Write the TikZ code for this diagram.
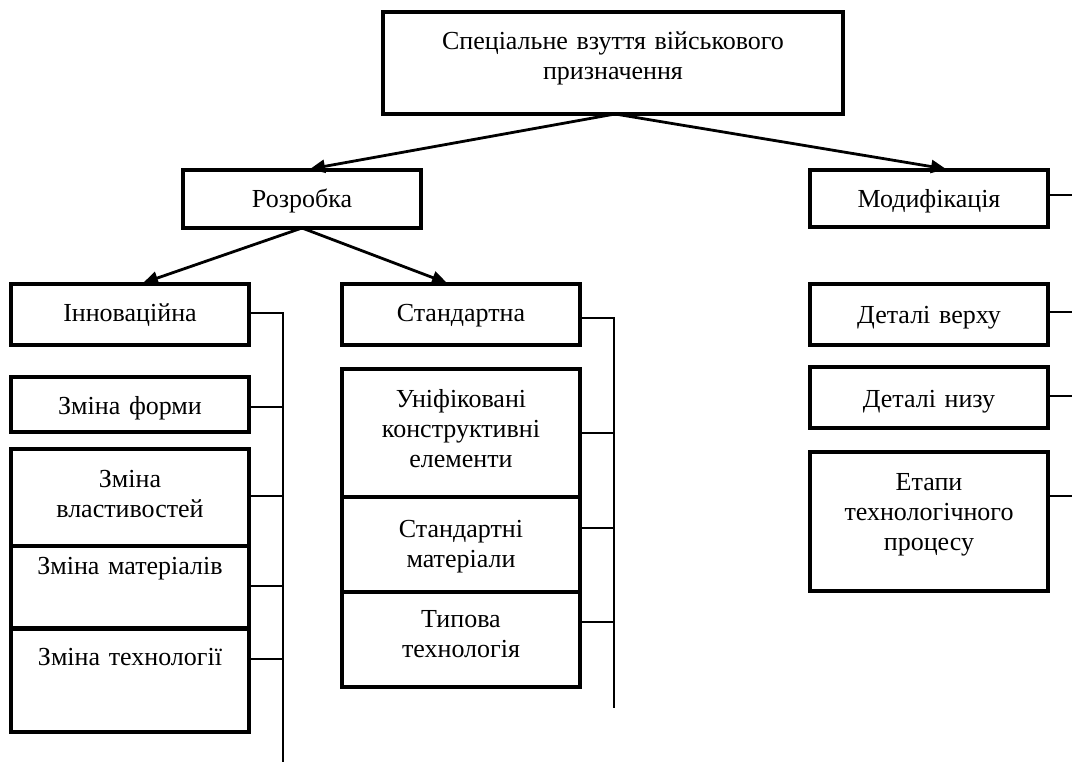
\documentclass[tikz,border=0pt]{standalone}
\usepackage{fontspec}
\setmainfont{Liberation Serif}
\usetikzlibrary{arrows.meta,calc}
\begin{document}
\begin{tikzpicture}[x=1pt,y=-1pt,
  box/.style={draw, line width=4pt, inner sep=0pt, outer sep=0pt, align=center,
    anchor=north west, text width=238pt, font=\fontsize{26}{30}\selectfont},
  link/.style={line width=2.6pt},
  arr/.style={line width=2.8pt, -{Triangle[length=15pt,width=13pt]}}]
\useasboundingbox (0,0) rectangle (1072,762);

% boxes
\node[box, text width=460pt, text height=38pt, text depth=64pt] (top) at (383,12) {Спеціальне взуття військового\\призначення};
\node[box, text height=38pt, text depth=20pt] (rozr) at (183,170) {Розробка};
\node[box, text height=38pt, text depth=19pt] (modif) at (810,170) {Модифікація};
\node[box, text height=38pt, text depth=23pt] (innov) at (11,284) {Інноваційна};
\node[box, text height=38pt, text depth=23pt] (stand) at (342,284) {Стандартна};
\node[box, text height=37pt, text depth=18pt] (forma) at (11,377) {Зміна форми};
\node[box, text height=38pt, text depth=59pt] (vlast) at (11,449) {Зміна\\властивостей};
\node[box, text height=28pt, text depth=54pt] (mater) at (11,546) {Зміна матеріалів};
\node[box, text height=36pt, text depth=67pt] (tekhn) at (11,629) {Зміна технології};
\node[box, text height=38pt, text depth=90pt] (unif) at (342,369) {Уніфіковані\\конструктивні\\елементи};
\node[box, text height=40pt, text depth=55pt] (stmat) at (342,497) {Стандартні\\матеріали};
\node[box, text height=35pt, text depth=60pt] (typ) at (342,592) {Типова\\технологія};
\node[box, text height=40pt, text depth=21pt] (verkh) at (810,284) {Деталі верху};
\node[box, text height=40pt, text depth=21pt] (nyz) at (810,367) {Деталі низу};
\node[box, text height=38pt, text depth=101pt] (etapy) at (810,452) {Етапи\\технологічного\\процесу};

% arrows
\coordinate (apex) at (615,114);
\draw[arr] (apex) -- ($(rozr.north)+(8,-1)$);
\draw[arr] (apex) -- ($(modif.north)+(17,-1)$);
\draw[arr] (rozr.south) -- ($(innov.north)+(13,-1)$);
\draw[arr] (rozr.south) -- ($(stand.north)+(-14,-1)$);

% left bus
\coordinate (lbus) at (283,762);
\draw[link] ($(innov.north east)+(0,29)$) -| (lbus);
\draw[link] ($(forma.north east)+(0,30)$) -- ++(34,0);
\draw[link] ($(vlast.north east)+(0,47)$) -- ++(34,0);
\draw[link] ($(mater.north east)+(0,40)$) -- ++(34,0);
\draw[link] ($(tekhn.north east)+(0,30)$) -- ++(34,0);

% middle bus
\coordinate (mbus) at (614,708);
\draw[link] ($(stand.north east)+(0,34)$) -| (mbus);
\draw[link] ($(unif.north east)+(0,64)$) -- ++(34,0);
\draw[link] ($(stmat.north east)+(0,31)$) -- ++(34,0);
\draw[link] ($(typ.north east)+(0,30)$) -- ++(34,0);

% right edge links
\draw[link] ($(modif.north east)+(0,25)$) -- ++(24,0);
\draw[link] ($(verkh.north east)+(0,28)$) -- ++(24,0);
\draw[link] ($(nyz.north east)+(0,29)$) -- ++(24,0);
\draw[link] ($(etapy.north east)+(0,44)$) -- ++(24,0);
\end{tikzpicture}
\end{document}
